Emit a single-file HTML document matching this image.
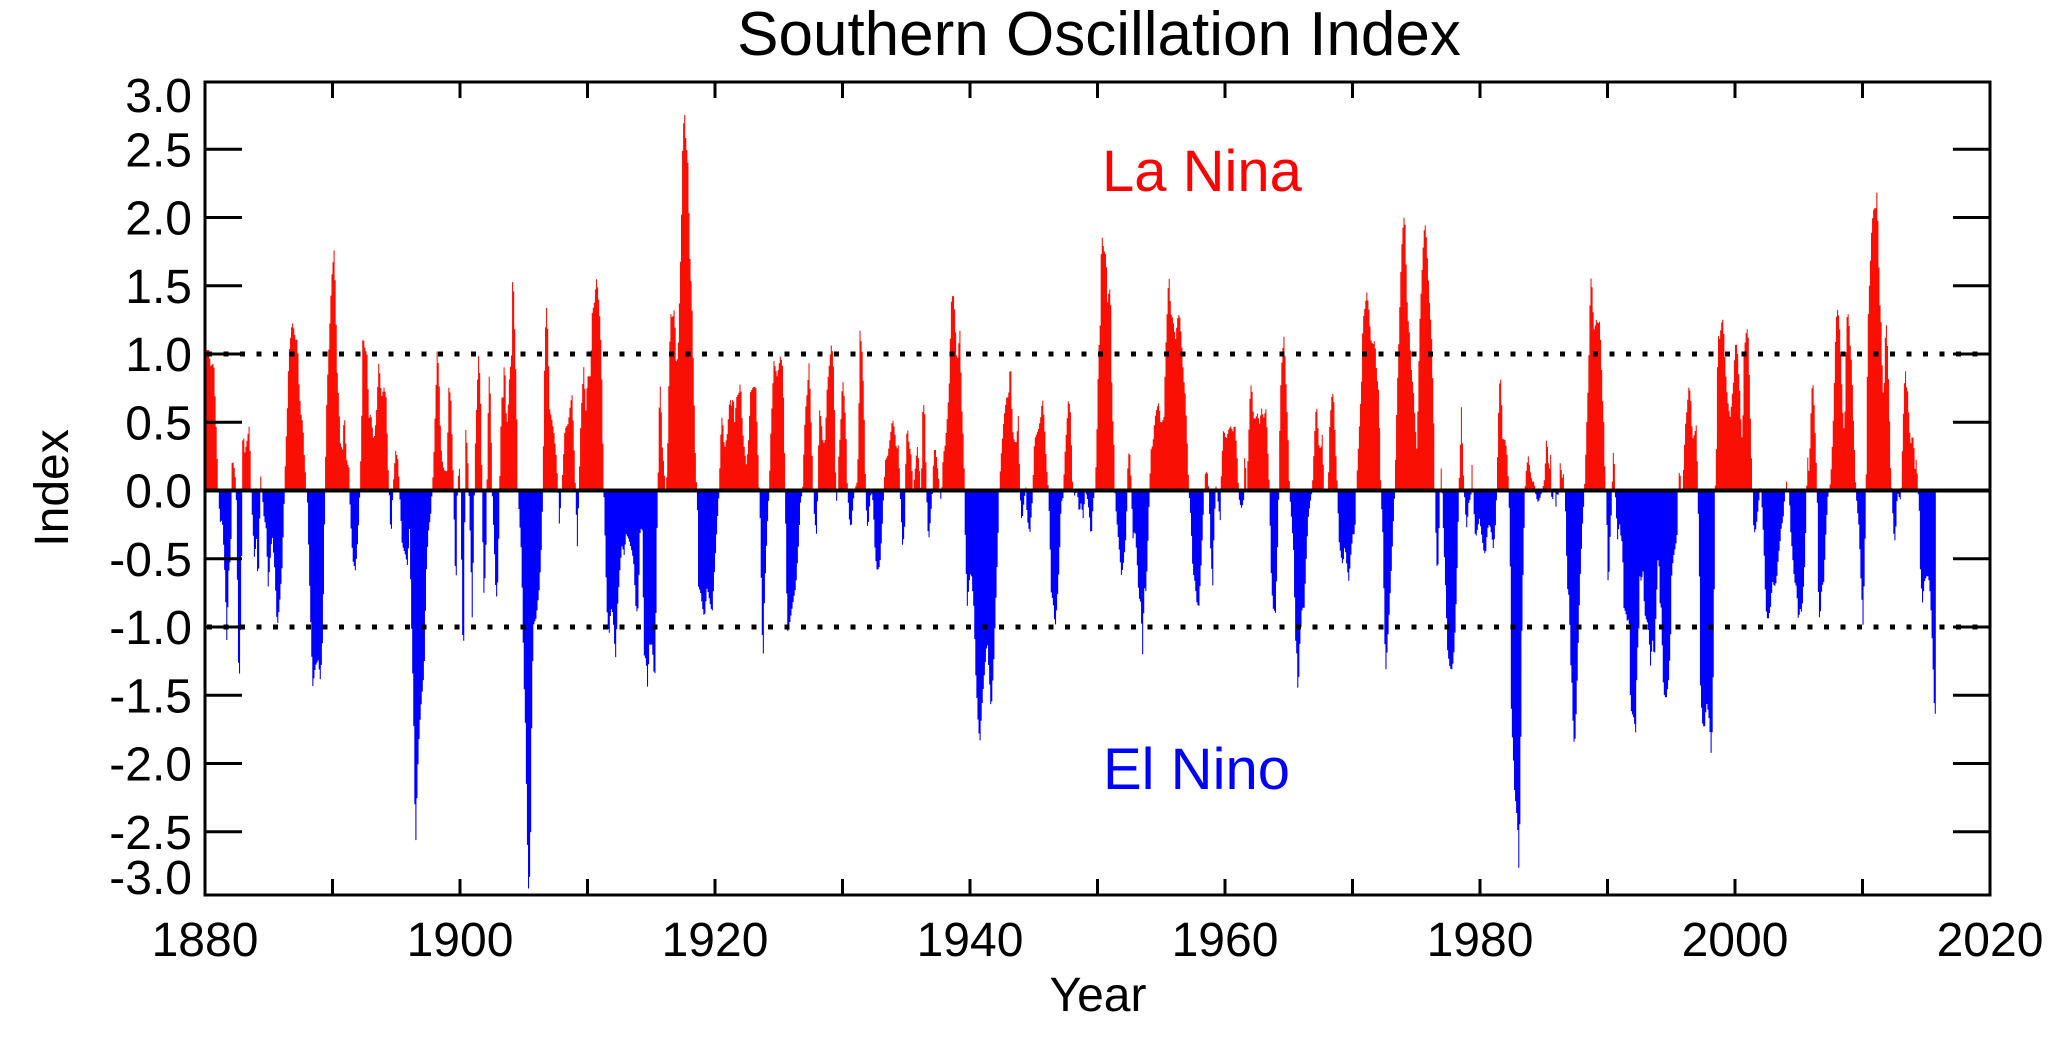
<!DOCTYPE html>
<html><head><meta charset="utf-8"><style>
html,body{margin:0;padding:0;background:#fff;}
svg{display:block;}
text{font-family:"Liberation Sans",sans-serif;}
</style></head><body>
<svg id="s" width="2069" height="1044" viewBox="0 0 2069 1044" xmlns="http://www.w3.org/2000/svg">
<defs>
<clipPath id="up"><rect x="205" y="82" width="1785" height="408.5"/></clipPath>
<clipPath id="dn"><rect x="205" y="490.5" width="1785" height="410"/></clipPath>
</defs>
<path id="red" fill="#fa0f05" clip-path="url(#up)" d=""/>
<path id="blue" fill="#0000ff" clip-path="url(#dn)" d=""/>
<g id="ax" stroke="#000" fill="none"></g>
<line x1="205" y1="490.5" x2="1990" y2="490.5" stroke="#000" stroke-width="4"/>
<line x1="207" y1="354" x2="1990" y2="354" stroke="#000" stroke-width="5" stroke-dasharray="5 11.5"/>
<line x1="207" y1="627" x2="1990" y2="627" stroke="#000" stroke-width="5" stroke-dasharray="5 11.5"/>
<rect x="205" y="82" width="1785" height="813" fill="none" stroke="#000" stroke-width="3"/>
<text x="1099" y="55" font-size="62" text-anchor="middle">Southern Oscillation Index</text>
<text x="1102" y="191" font-size="58" fill="#ff0000">La Nina</text>
<text x="1103" y="789" font-size="58" fill="#0000ff">El Nino</text>
<text x="1098" y="1011" font-size="48" text-anchor="middle">Year</text>
<text transform="translate(68,488) rotate(-90)" font-size="48" text-anchor="middle">Index</text>
<g id="lab" font-size="48"></g>
</svg>
<script>
var Z=[
[205,[0,510,10,510,15,540,25,535,30,620,36,735,38,777,40,800,45,840,50,830,55,890,60,970,63,1075,66,1020,70,930,76,900,78,777,80,715,88,740,92,777,94,860,97,1020,100,1160,104,1090,108,930,110,777,112,655,118,705,125,680,132,650,136,760,140,820,148,920,152,850,158,965,162,850,165,745,170,780,175,825,182,850,188,960,195,900,200,860,208,930,215,1040,222,995,230,920,236,800,240,710,245,630,250,520,256,480,260,455,265,470,270,490,276,490,280,570,286,630,292,650,296,705,303,777,306,800,312,950,318,1080,322,1150,330,1110,338,1100,345,1140,352,1050,358,800,362,640,366,565,372,475,378,375,386,318,390,400,395,550,400,610,405,690,412,700,416,620,420,680,425,730,430,725,432,777,435,830,442,910,450,930,458,860,463,777,468,660,472,480,478,505,485,520,490,640,496,630,505,685,512,640,520,530,528,600,536,580,542,600,548,735,551,777,554,840,558,850,562,777,570,700,578,720,582,777,590,880,600,900,606,920,612,850,618,1030,624,1190,630,1470,636,1320,642,1230,648,1175,656,1120,662,940,668,860,676,820,680,777,684,730,690,610,695,510,700,550,706,690,712,730,718,740,724,740,730,580,736,600,742,720,745,800,748,910,752,950,756,760,762,735,765,777,768,900,772,1080,775,1060,780,655,786,700,790,777,795,880,800,1020,804,890,808,720,815,580,820,510,826,620,830,777,834,980,838,950,842,870,846,700,850,550,855,600,860,777,866,880,872,990,878,940,882,777,888,600,893,600,897,515,902,630,906,650,912,560,918,520,922,345,928,480,933,600,937,777,942,830,948,900,955,1130,960,1230,965,1430,970,1560,975,1450,980,1140,985,1030,992,1020,1002,960,1008,880,1012,777,1016,570,1022,415,1028,490,1032,620,1040,645,1046,670,1052,710,1058,777,1062,850,1066,790,1070,760,1078,660,1088,650,1095,610,1100,595,1105,680,1110,777,1116,890,1120,777,1126,640,1130,590,1136,530,1140,640,1146,560,1155,560,1160,440,1168,415,1172,370,1178,400,1184,460,1188,530,1194,760,1198,850,1204,1000,1210,1060,1216,1000,1222,1010,1230,1100,1236,1000,1244,920,1250,880,1256,900,1262,860,1270,870,1278,890,1284,910,1292,1010,1298,1000,1304,850,1310,850,1316,1090,1322,1100,1326,1150,1332,1070,1340,1070,1346,1130,1350,1120]],
[650,[15,1120,18,900,22,777,26,620,30,570,35,690,40,730,45,777,50,740,55,570,60,440,66,450,72,430,78,550,84,490,88,385,92,290,97,100,102,55,106,110,112,150,118,330,124,410,130,580,136,750,140,777,144,960,150,970,156,1000,162,1020,170,960,178,990,185,1010,192,930,200,840,206,777,210,680,215,630,222,700,230,670,238,600,244,620,248,590,252,650,258,600,266,590,270,565,276,660,282,700,288,730,294,680,300,590,308,580,316,580,322,700,326,777,330,850,334,1030,338,1100,342,980,350,850,356,777,360,680,364,620,370,530,380,560,390,520,396,540,400,620,404,777,408,960,412,1050,420,1020,430,980,436,960,444,880,450,800,456,777,460,700,464,630,470,590,476,530,482,650,488,770,492,830,498,860,502,777,506,620,512,640,518,690,524,680,530,580,536,540,542,500,548,520,553,650,556,777,560,810,564,720,570,660,576,560,580,590,586,650,590,760,596,830,602,850,608,800,612,777,620,760,624,680,628,470,636,520,642,660,646,800,652,855,658,800,662,777,668,800,674,900,680,930,688,920,694,860,700,777,704,720,712,710,720,670,726,640,732,660,738,700,744,690,750,800,756,880,762,860,766,710,770,650,776,690,782,710,788,777,795,730,800,690,806,730,812,790,816,630,822,605,828,777,834,880,840,830,846,777,850,700,856,700,862,740,868,777,872,800,878,710,884,690,890,640,896,580,902,420,908,400,912,430,920,540,928,470,934,620,940,700,944,860,950,1000,956,950,962,930,970,1000,976,1130,982,1210,988,1260,994,1190,1000,1140,1010,1060,1016,1130,1022,1200,1030,1100,1036,990,1042,880,1046,777,1052,710,1060,640,1068,600,1074,600,1080,525,1086,660,1092,685,1098,685,1104,630,1108,777,1114,840,1120,800,1126,770,1130,830,1138,860,1145,800,1152,680,1158,670,1164,660,1170,640,1176,600,1182,650,1188,730,1194,777,1198,860,1202,970,1208,990,1214,1040,1220,990,1226,920,1232,800,1238,790,1242,720,1248,660,1254,600,1260,630,1266,760,1272,787,1280,775,1286,820,1292,800,1298,830,1304,777,1310,790,1316,820,1322,870,1328,800,1334,770,1338,700,1344,520,1350,450]],
[1095,[15,350,20,295,25,320,32,330,36,420,40,400,45,390,50,620,55,680,58,777,62,820,70,880,78,940,85,910,92,860,95,777,98,705,104,710,108,777,112,870,118,850,124,900,130,980,136,990,142,1100,146,960,152,970,158,860,162,777,166,700,172,690,178,640,184,620,190,610,196,650,205,640,210,520,216,420,220,360,226,440,232,450,240,490,246,450,252,440,258,490,264,560,270,600,276,700,280,777,286,830,292,930,298,950,304,990,310,1000,316,930,322,840,326,777,330,740,336,745,340,777,346,900,352,960,356,840,362,760,368,800,374,835,378,730,384,660,392,680,400,660,406,655,412,665,418,650,424,700,428,760,432,800,438,810,444,800,448,700,454,780,458,700,464,590,468,570,474,640,480,640,486,630,492,650,498,620,504,640,512,620,518,715,522,777,526,920,532,1000,540,1010,546,890,550,777,554,600,560,520,566,480,572,580,578,680,582,777,588,830,594,890,600,1060,604,1090,608,1180,612,1080,620,1000,626,1000,632,910,638,830,644,800,650,777,654,720,660,630,664,620,670,690,676,700,680,670,686,777,692,780,698,777,702,660,708,600,714,590,720,690,726,777,730,870,736,900,742,920,748,880,754,920,760,950,766,900,772,860,778,860,782,777,786,730,792,650,798,570,802,455,808,430,814,400,820,430,826,490,832,500,838,490,844,560,850,590,856,777,862,860,866,1000,870,1130,876,1070,882,1000,888,920,894,830,898,777,902,660,906,570,910,490,914,400,918,320,924,260,928,255,932,350,936,440,942,480,948,550,954,590,960,660,964,700,968,600,972,470,978,380,984,300,988,265,992,290,996,340,1002,420,1008,480,1014,620,1018,777,1022,880,1026,950,1032,820,1036,720,1040,777,1044,860,1050,960,1056,1080,1062,1110,1068,1120,1074,1100,1080,1030,1086,900,1090,777,1094,700,1098,610,1102,720,1106,777,1110,820,1114,850,1120,800,1126,790,1130,720,1134,800,1140,870,1146,850,1152,830,1158,860,1164,890,1170,900,1176,850,1182,840,1188,860,1194,890,1200,840,1204,777,1208,650,1214,545,1218,600,1222,680,1228,680,1234,700,1240,777,1244,900,1248,1240,1252,1250,1256,1340,1262,1380,1266,1410,1270,1500,1274,1380,1280,1000,1284,900,1288,777,1292,740,1298,710,1304,740,1310,760,1316,760,1322,790,1328,800,1334,790,1340,777,1346,760,1350,720]],
[1540,[15,700,18,680,22,700,26,750,30,700,34,800,38,790,42,760,46,810,50,780,55,790,60,710,64,760,68,740,72,777,76,830,80,960,86,980,90,1100,94,1140,98,1230,102,1270,106,1220,110,1140,114,1050,118,960,122,900,126,840,130,800,134,740,138,660,142,590,146,500,150,370,154,380,158,440,162,480,166,450,172,460,178,455,182,520,186,600,190,650,194,760,198,790,202,950,206,930,210,840,214,810,216,730,220,690,224,780,228,830,232,880,236,830,240,860,246,880,250,1000,256,1010,260,1025,266,1020,270,1190,274,1200,280,1210,286,1240,290,1080,294,1070,298,940,302,950,308,930,312,1010,316,1020,322,1030,326,1060,330,1110,336,1060,342,1100,346,1020,350,950,354,880,358,990,362,1000,368,1140,372,1170,378,1170,384,1140,390,1070,394,930,400,900,406,880,410,860,414,740,420,750,424,790,428,750,432,690,436,640,440,620,444,580,450,590,456,680,462,670,468,650,472,777,476,900,480,1160,486,1220,492,1230,498,1180,504,1200,508,1230,512,1280,516,1220,520,1050,524,777,528,690,532,480,538,490,542,460,548,450,552,510,558,580,564,620,570,640,574,600,578,580,584,500,590,500,594,550,598,590,602,660,606,690,610,520,616,480,620,470,624,490,628,600,632,700,636,777,640,860,646,850,650,830,656,790,660,760,664,800,670,880,676,1000,680,1020,684,1020,690,1000,696,950,702,960,708,950,714,900,718,880,722,850,728,830,734,777,738,760,742,780,746,777,750,850,756,900,762,950,768,960,774,1030,778,1000,784,1010,790,950,794,900,798,777,802,710,806,750,810,650,816,560,820,600,826,700,830,777,834,990,838,1030,844,960,850,950,856,860,862,790,866,777,870,760,874,710,878,650,882,560,886,460,890,430,896,450,902,540,906,620,910,660,914,620,918,450,924,440,930,510,934,540,938,630,942,700,946,777,950,810,956,850,960,930,964,980,968,1040,972,920,976,810,980,570,984,420,988,370,994,270,1000,240,1006,240,1010,200,1014,320,1018,420,1022,460,1026,570,1030,610,1034,490,1038,460,1042,520,1046,610,1050,730,1054,777,1058,840,1062,880,1066,850,1070,790,1074,780,1078,800,1082,777,1086,690,1090,600,1094,540,1098,580,1102,590,1106,650,1110,690,1116,670,1120,690,1124,740,1128,710,1132,777,1136,800,1140,940,1146,990,1152,950,1158,940,1164,940,1170,980,1176,1080,1180,1160,1184,1240,1187,777]]
];
var pts=[];
Z.forEach(function(z){var o=z[0],a=z[1];for(var i=0;i<a.length;i+=2){pts.push([o+a[i]/3,82+a[i+1]/1.902]);}});
var d="M205,490.5";var step=1785/140/12;
var j=0,x;
for(x=205;x<pts[pts.length-1][0];x+=step){
  while(j<pts.length-2&&pts[j+1][0]<x)j++;
  var p=pts[j],q=pts[j+1];var t=(q[0]-p[0])?(x-p[0])/(q[0]-p[0]):0;t=Math.max(0,Math.min(1,t));
  var y=p[1]+(q[1]-p[1])*t;
  d+="L"+x.toFixed(2)+","+y.toFixed(1)+"L"+(x+step).toFixed(2)+","+y.toFixed(1);
}
d+="L"+(x).toFixed(2)+",490.5Z";
document.getElementById("red").setAttribute("d",d);
document.getElementById("blue").setAttribute("d",d);
var ax=document.getElementById("ax"),lab=document.getElementById("lab"),ns="http://www.w3.org/2000/svg";
function ln(a,b,c,e,w){var l=document.createElementNS(ns,"line");l.setAttribute("x1",a);l.setAttribute("y1",b);l.setAttribute("x2",c);l.setAttribute("y2",e);l.setAttribute("stroke-width",w);ax.appendChild(l);}
function tx(x,y,s,anc){var t=document.createElementNS(ns,"text");t.setAttribute("x",x);t.setAttribute("y",y);t.setAttribute("text-anchor",anc);t.textContent=s;lab.appendChild(t);}
for(var k=-6;k<=6;k++){var v=k*0.5;var y=490.5-v*136.5;
 if(k>-6&&k<6){ln(205,y,242,y,3);ln(1953,y,1990,y,3);}
 var s=v.toFixed(1);if(s=="-0.0")s="0.0";
 var ly=y+17; if(k==6)ly=112; if(k==-6)ly=894;
 tx(192,ly,s,"end");}
for(var yr=1880;yr<=2020;yr+=10){var xx=205+(yr-1880)*1785/140;ln(xx,82,xx,98,3);ln(xx,879,xx,895,3);
 if(yr%20==0)tx(xx,956,""+yr,"middle");}
</script>
</body></html>
